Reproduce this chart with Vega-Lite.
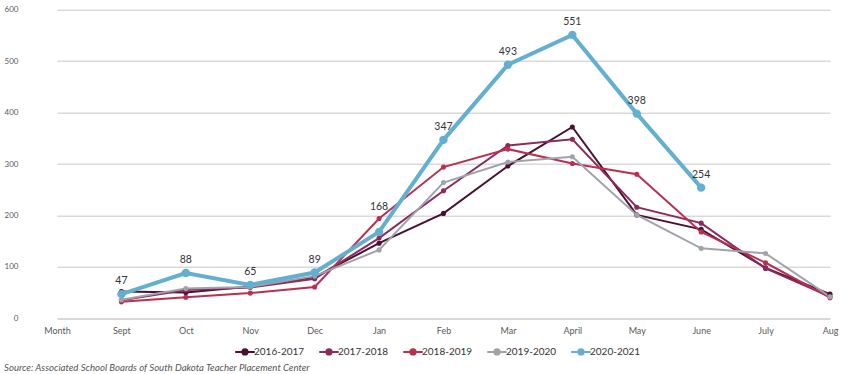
{
  "$schema": "https://vega.github.io/schema/vega-lite/v6.json",
  "autosize": "none",
  "width": 825,
  "height": 308.6,
  "padding": {"left": 25, "top": 9.7, "right": 0, "bottom": 55.7},
  "background": "white",
  "config": {
    "font": "Lato",
    "view": {"stroke": null}
  },
  "title": {
    "text": "Source:  Associated School Boards of South Dakota Teacher Placement Center",
    "orient": "bottom",
    "anchor": "start",
    "dx": 0,
    "offset": 4,
    "fontSize": 9.6,
    "fontStyle": "italic",
    "fontWeight": "normal",
    "color": "#555555",
    "font": "Lato"
  },
  "data": {
    "values": [
      {"month": "Sept", "year": "2016-2017", "value": 52},
      {"month": "Oct", "year": "2016-2017", "value": 50},
      {"month": "Nov", "year": "2016-2017", "value": 62},
      {"month": "Dec", "year": "2016-2017", "value": 80},
      {"month": "Jan", "year": "2016-2017", "value": 146},
      {"month": "Feb", "year": "2016-2017", "value": 204},
      {"month": "Mar", "year": "2016-2017", "value": 296},
      {"month": "April", "year": "2016-2017", "value": 372},
      {"month": "May", "year": "2016-2017", "value": 201},
      {"month": "June", "year": "2016-2017", "value": 173},
      {"month": "July", "year": "2016-2017", "value": 98},
      {"month": "Aug", "year": "2016-2017", "value": 47},
      {"month": "Sept", "year": "2017-2018", "value": 35},
      {"month": "Oct", "year": "2017-2018", "value": 55},
      {"month": "Nov", "year": "2017-2018", "value": 60},
      {"month": "Dec", "year": "2017-2018", "value": 77},
      {"month": "Jan", "year": "2017-2018", "value": 156},
      {"month": "Feb", "year": "2017-2018", "value": 248},
      {"month": "Mar", "year": "2017-2018", "value": 336},
      {"month": "April", "year": "2017-2018", "value": 348},
      {"month": "May", "year": "2017-2018", "value": 216},
      {"month": "June", "year": "2017-2018", "value": 185},
      {"month": "July", "year": "2017-2018", "value": 97},
      {"month": "Aug", "year": "2017-2018", "value": 42},
      {"month": "Sept", "year": "2018-2019", "value": 32},
      {"month": "Oct", "year": "2018-2019", "value": 41},
      {"month": "Nov", "year": "2018-2019", "value": 49},
      {"month": "Dec", "year": "2018-2019", "value": 61},
      {"month": "Jan", "year": "2018-2019", "value": 194},
      {"month": "Feb", "year": "2018-2019", "value": 294},
      {"month": "Mar", "year": "2018-2019", "value": 329},
      {"month": "April", "year": "2018-2019", "value": 301},
      {"month": "May", "year": "2018-2019", "value": 280},
      {"month": "June", "year": "2018-2019", "value": 168},
      {"month": "July", "year": "2018-2019", "value": 108},
      {"month": "Aug", "year": "2018-2019", "value": 40},
      {"month": "Sept", "year": "2019-2020", "value": 36},
      {"month": "Oct", "year": "2019-2020", "value": 58},
      {"month": "Nov", "year": "2019-2020", "value": 61},
      {"month": "Dec", "year": "2019-2020", "value": 82},
      {"month": "Jan", "year": "2019-2020", "value": 133},
      {"month": "Feb", "year": "2019-2020", "value": 264},
      {"month": "Mar", "year": "2019-2020", "value": 304},
      {"month": "April", "year": "2019-2020", "value": 314},
      {"month": "May", "year": "2019-2020", "value": 201},
      {"month": "June", "year": "2019-2020", "value": 136},
      {"month": "July", "year": "2019-2020", "value": 126},
      {"month": "Aug", "year": "2019-2020", "value": 42},
      {"month": "Sept", "year": "2020-2021", "value": 47},
      {"month": "Oct", "year": "2020-2021", "value": 88},
      {"month": "Nov", "year": "2020-2021", "value": 65},
      {"month": "Dec", "year": "2020-2021", "value": 89},
      {"month": "Jan", "year": "2020-2021", "value": 168},
      {"month": "Feb", "year": "2020-2021", "value": 347},
      {"month": "Mar", "year": "2020-2021", "value": 493},
      {"month": "April", "year": "2020-2021", "value": 551},
      {"month": "May", "year": "2020-2021", "value": 398},
      {"month": "June", "year": "2020-2021", "value": 254}
    ]
  },
  "encoding": {
    "x": {
      "field": "month",
      "type": "nominal",
      "scale": {
        "type": "point",
        "domain": ["Month", "Sept", "Oct", "Nov", "Dec", "Jan", "Feb", "Mar", "April", "May", "June", "July", "Aug"],
        "range": [32, 805],
        "padding": 0
      },
      "axis": {
        "title": null,
        "labelAngle": 0,
        "ticks": false,
        "domain": true,
        "domainColor": "#d9d9d9",
        "domainWidth": 1.5,
        "grid": false,
        "labelFontSize": 9,
        "labelColor": "#595959",
        "labelPadding": 8
      }
    },
    "y": {
      "field": "value",
      "type": "quantitative",
      "scale": {"domain": [0, 600], "nice": false},
      "axis": {
        "title": null,
        "values": [0, 100, 200, 300, 400, 500, 600],
        "ticks": false,
        "domain": false,
        "grid": true,
        "gridColor": "#d9d9d9",
        "gridWidth": 1.5,
        "labelFontSize": 8,
        "labelColor": "#595959",
        "labelPadding": 7
      }
    },
    "color": {
      "field": "year",
      "type": "nominal",
      "scale": {
        "domain": ["2016-2017", "2017-2018", "2018-2019", "2019-2020", "2020-2021"],
        "range": ["#4a1030", "#8c2a5c", "#b8304f", "#9fa4aa", "#62afcf"]
      },
      "legend": {
        "title": null,
        "orient": "none",
        "direction": "horizontal",
        "legendX": 212,
        "legendY": 334,
        "symbolType": "M-1.5,0L1.5,0M-0.4,0A0.4,0.4,0,1,1,0.4,0A0.4,0.4,0,1,1,-0.4,0Z",
        "symbolSize": 170,
        "symbolStrokeWidth": 2,
        "labelFontSize": 10,
        "labelColor": "#333333",
        "columnPadding": 10,
        "labelOffset": 1
      }
    }
  },
  "layer": [
    {
      "mark": {"type": "line"},
      "encoding": {
        "strokeWidth": {
          "condition": {"test": "datum.year === '2020-2021'", "value": 4},
          "value": 2
        }
      }
    },
    {
      "mark": {"type": "point", "filled": true, "opacity": 1},
      "encoding": {
        "size": {
          "condition": {"test": "datum.year === '2020-2021'", "value": 70},
          "value": 26
        }
      }
    },
    {
      "transform": [{"filter": "datum.year === '2020-2021' && datum.month !== 'Jan'"}],
      "mark": {"type": "text", "dy": -13, "fontSize": 10.5, "color": "#333333"},
      "encoding": {
        "text": {"field": "value", "type": "quantitative"},
        "color": {"value": "#333333"}
      }
    },
    {
      "transform": [{"filter": "datum.year === '2020-2021' && datum.month === 'Jan'"}],
      "mark": {"type": "text", "dy": -25, "fontSize": 10.5, "color": "#333333"},
      "encoding": {
        "text": {"field": "value", "type": "quantitative"},
        "color": {"value": "#333333"}
      }
    }
  ]
}
